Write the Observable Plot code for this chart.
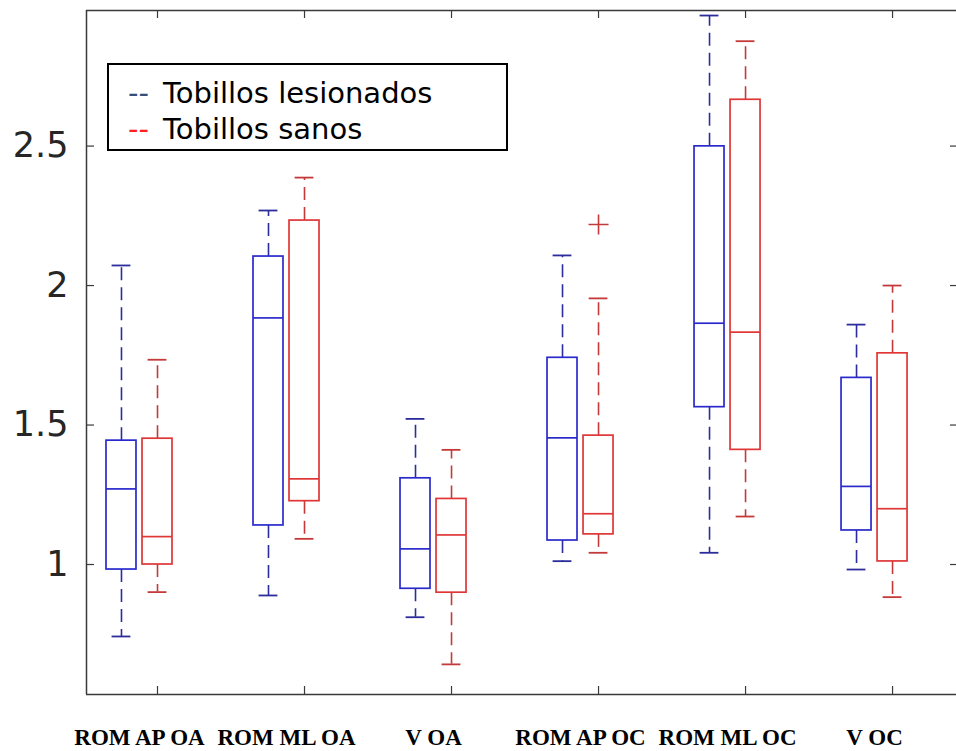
<!DOCTYPE html>
<html><head><meta charset="utf-8">
<script src="https://cdn.jsdelivr.net/npm/d3@7"></script>
<script src="https://cdn.jsdelivr.net/npm/@observablehq/plot@0.6"></script>
<style>
body{margin:0;background:#fff;}
#wrap{position:relative;width:956px;height:751px;}
#legend{position:absolute;left:107px;top:63px;width:401px;height:88px;box-sizing:border-box;border:2px solid #000;background:#fff;font-family:"DejaVu Sans";font-size:29px;line-height:36px;padding:10px 0 0 19px;color:#000;white-space:nowrap;}
.dash{display:inline-block;width:35px;}
</style></head><body><div id="wrap"></div>
<script>
// ---- data ----
const categories = ["ROM AP OA", "ROM ML OA", "V OA", "ROM AP OC", "ROM ML OC", "V OC"];
const seriesNames = ["Tobillos lesionados", "Tobillos sanos"];
const yTicks = [1, 1.5, 2, 2.5];

// Tobillos lesionados (blue)
const lesLow    = [0.742, 0.889, 0.811, 1.012, 1.042, 0.982];
const lesQ1     = [0.982, 1.140, 0.913, 1.086, 1.564, 1.122];
const lesMedian = [1.271, 1.884, 1.056, 1.454, 1.865, 1.280];
const lesQ3     = [1.444, 2.104, 1.309, 1.741, 2.499, 1.669];
const lesHigh   = [2.072, 2.269, 1.522, 2.108, 2.968, 1.860];

// Tobillos sanos (red)
const sanLow    = [0.901, 1.092, 0.642, 1.042, 1.172, 0.883];
const sanQ1     = [1.000, 1.227, 0.899, 1.108, 1.411, 1.011];
const sanMedian = [1.100, 1.307, 1.106, 1.182, 1.833, 1.200];
const sanQ3     = [1.451, 2.233, 1.235, 1.462, 2.666, 1.757];
const sanHigh   = [1.734, 2.387, 1.411, 1.954, 2.876, 2.000];

// outliers: [category index, value]
const sanOutliers = [[3, 2.219]];
const lesOutliers = [];

// ---- styling / layout ----
const boxColor = ["#2a2acc", "#e03636"];
const whiskerColor = ["#2c2c9c", "#c43a3a"];
const offsets = [-0.245, 0];
const hw = 0.102, capHalf = 0.064;
const xMin = 0.517, xMax = 6.435, yMin = 0.534, yMax = 2.986;
const axisColor = "#3a3a3a";

const stats = [
  [lesLow, lesQ1, lesMedian, lesQ3, lesHigh],
  [sanLow, sanQ1, sanMedian, sanQ3, sanHigh]
];
const rows = [];
stats.forEach((s, si) => {
  categories.forEach((c, i) => {
    rows.push({series: seriesNames[si], si, cat: c, pos: i + 1 + offsets[si],
      low: s[0][i], q1: s[1][i], med: s[2][i], q3: s[3][i], high: s[4][i]});
  });
});
const outliers = [];
[lesOutliers, sanOutliers].forEach((arr, si) => arr.forEach(([i, v]) =>
  outliers.push({si, pos: i + 1 + offsets[si], value: v})));

const tickPos = categories.map((c, i) => i + 1);
const sc = d => boxColor[d.si];
const wc = d => whiskerColor[d.si];

const chart = Plot.plot({
  width: 956, height: 751,
  marginLeft: 86, marginRight: 0, marginTop: 10, marginBottom: 57,
  style: {fontFamily: "DejaVu Sans", background: "#fff", color: "#262626", overflow: "visible"},
  x: {type: "linear", domain: [xMin, xMax], axis: null},
  y: {domain: [yMin, yMax], axis: null},
  marks: [
    // whiskers (dashed)
    Plot.ruleX(rows, {x: "pos", y1: "q3", y2: "high", stroke: wc, strokeWidth: 1.6, strokeDasharray: "13,7"}),
    Plot.ruleX(rows, {x: "pos", y1: "q1", y2: "low", stroke: wc, strokeWidth: 1.6, strokeDasharray: "13,7"}),
    // caps
    Plot.ruleY(rows, {y: "high", x1: d => d.pos - capHalf, x2: d => d.pos + capHalf, stroke: wc, strokeWidth: 1.8}),
    Plot.ruleY(rows, {y: "low", x1: d => d.pos - capHalf, x2: d => d.pos + capHalf, stroke: wc, strokeWidth: 1.8}),
    // boxes
    Plot.rect(rows, {x1: d => d.pos - hw, x2: d => d.pos + hw, y1: "q1", y2: "q3", fill: "white", stroke: sc, strokeWidth: 1.7}),
    // medians
    Plot.ruleY(rows, {y: "med", x1: d => d.pos - hw, x2: d => d.pos + hw, stroke: sc, strokeWidth: 1.7}),
    // outliers
    Plot.dot(outliers, {x: "pos", y: "value", symbol: "plus", r: 6.5, stroke: d => whiskerColor[d.si], strokeWidth: 1.6}),
    // frame lines
    Plot.ruleX([xMin], {stroke: axisColor, strokeWidth: 1.5}),
    Plot.ruleY([yMin], {stroke: axisColor, strokeWidth: 1.5}),
    Plot.ruleY([yMax], {stroke: axisColor, strokeWidth: 1.5}),
    // inward ticks
    Plot.ruleY(yTicks, {y: d => d, x1: xMin, x2: xMin + 8 / 147, stroke: axisColor, strokeWidth: 1.2}),
    Plot.ruleY(yTicks, {y: d => d, x1: xMax - 6 / 147, x2: xMax, stroke: axisColor, strokeWidth: 1.2}),
    Plot.ruleX(tickPos, {x: d => d, y1: yMin, y2: yMin + 8 / 279, stroke: axisColor, strokeWidth: 1.2}),
    Plot.ruleX(tickPos, {x: d => d, y1: yMax - 8 / 279, y2: yMax, stroke: axisColor, strokeWidth: 1.2}),
    // y tick labels
    Plot.axisY(yTicks, {anchor: "left", tickSize: 0, tickPadding: 18, fontSize: 35, label: null, tickFormat: d => String(d)}),
    // category labels
    Plot.text(categories, {x: (d, i) => i + 1 + offsets[0] / 2, frameAnchor: "bottom", lineAnchor: "middle", dy: 43, text: d => d,
      fontFamily: "Liberation Serif", fontWeight: "bold", fontSize: 23, fill: "#000"})
  ]
});
const wrap = document.getElementById("wrap");
wrap.appendChild(chart);

const legend = document.createElement("div");
legend.id = "legend";
const legendDash = ["#34507a", "#ff1f1f"];
seriesNames.forEach((name, i) => {
  const line = document.createElement("div");
  const dash = document.createElement("span");
  dash.className = "dash";
  dash.style.color = legendDash[i];
  dash.textContent = "--";
  line.appendChild(dash);
  line.appendChild(document.createTextNode(name));
  legend.appendChild(line);
});
wrap.appendChild(legend);
</script>
</body></html>
